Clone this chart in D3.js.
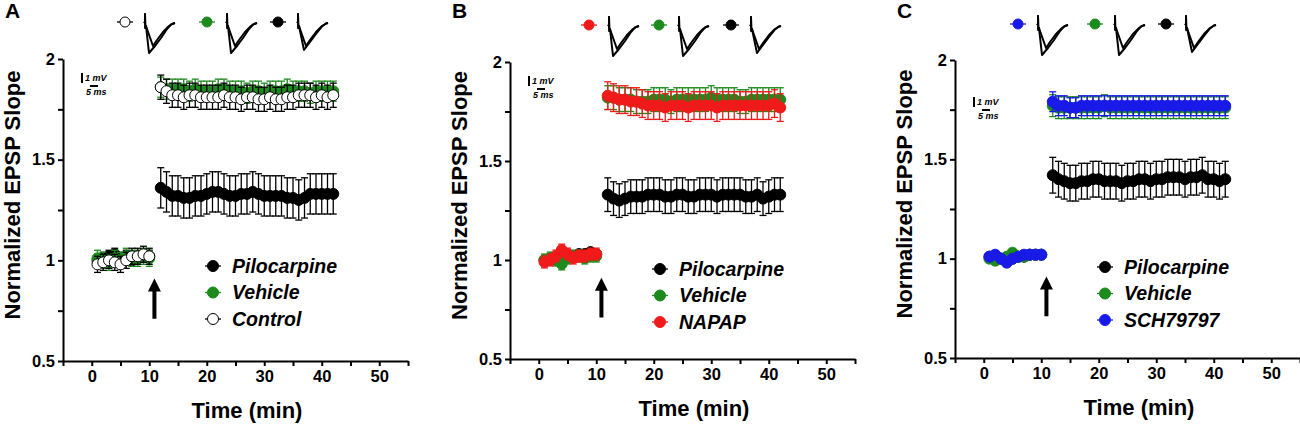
<!DOCTYPE html>
<html>

<head>
    <meta charset='utf-8'>
</head>
<style>
    body {
        margin: 0;
        background: #fff;
    }

    text {
        font-family: Arial, "Liberation Sans", sans-serif;
        font-weight: bold;
    }

    .axis path,
    .axis line {
        stroke: #000;
        stroke-width: 2px;
    }

    .axis text {
        font-size: 16.5px;
    }
</style>

<body>
    <div id='chart'></div>
    <script src="https://d3js.org/d3.v7.min.js"></script>
    <script>
        // time points (min)
        var timeBase = [1, 2, 3, 4, 5, 6, 7, 8, 9, 10];
        var timePost = [12, 13, 14, 15, 16, 17, 18, 19, 20, 21, 22, 23, 24, 25, 26, 27,
            28, 29, 30, 31, 32, 33, 34, 35, 36, 37, 38, 39, 40, 41, 42];
        var xTicks = [-5, 0, 5, 10, 15, 20, 25, 30, 35, 40, 45, 50, 55];
        var yTicks = [0.5, 0.75, 1, 1.25, 1.5, 1.75, 2];

        // panel A
        var aPiloBase = [1.00, 1.01, 1.02, 1.03, 1.01, 1.02, 1.00, 1.01, 1.02, 1.02];
        var aPiloPost = [1.36, 1.34, 1.32, 1.32, 1.31, 1.31, 1.32, 1.32, 1.33, 1.34, 1.34, 1.33, 1.32, 1.32, 1.33, 1.33,
            1.34, 1.33, 1.32, 1.32, 1.32, 1.32, 1.31, 1.31, 1.30, 1.31, 1.33, 1.33, 1.33, 1.33, 1.33];
        var aVehBase = [1.01, 1.00, 0.99, 1.01, 1.00, 1.02, 1.01, 1.01, 1.02, 1.01];
        var aVehPost = [1.86, 1.85, 1.85, 1.85, 1.85, 1.84, 1.85, 1.84, 1.84, 1.84, 1.85, 1.85, 1.84, 1.84, 1.84, 1.83,
            1.84, 1.84, 1.83, 1.84, 1.84, 1.84, 1.85, 1.84, 1.84, 1.84, 1.83, 1.84, 1.84, 1.84, 1.84];
        var aCtrlBase = [0.98, 0.99, 1.00, 0.99, 0.98, 1.00, 1.02, 1.02, 1.03, 1.02];
        var aCtrlPost = [1.86, 1.84, 1.82, 1.82, 1.81, 1.82, 1.82, 1.81, 1.81, 1.81, 1.81, 1.82, 1.81, 1.81, 1.80, 1.81,
            1.81, 1.80, 1.80, 1.81, 1.80, 1.80, 1.81, 1.81, 1.82, 1.82, 1.82, 1.81, 1.82, 1.81, 1.82];

        // panel B
        var bPiloBase = [1.00, 1.00, 1.01, 1.01, 1.02, 1.02, 1.03, 1.03, 1.04, 1.03];
        var bPiloPost = [1.33, 1.31, 1.30, 1.31, 1.32, 1.32, 1.32, 1.33, 1.33, 1.33, 1.32, 1.32, 1.33, 1.33, 1.32, 1.32,
            1.33, 1.33, 1.33, 1.32, 1.33, 1.33, 1.33, 1.33, 1.32, 1.32, 1.33, 1.31, 1.32, 1.33, 1.33];
        var bVehBase = [1.00, 1.01, 1.00, 0.98, 1.01, 1.02, 1.02, 1.01, 1.02, 1.02];
        var bVehPost = [1.82, 1.82, 1.81, 1.81, 1.81, 1.80, 1.80, 1.80, 1.81, 1.81, 1.81, 1.80, 1.81, 1.81, 1.81, 1.81,
            1.81, 1.81, 1.82, 1.81, 1.81, 1.81, 1.81, 1.80, 1.80, 1.81, 1.81, 1.81, 1.81, 1.81, 1.81];
        var bNapBase = [0.99, 1.00, 1.02, 1.05, 1.03, 1.01, 1.02, 1.02, 1.03, 1.03];
        var bNapPost = [1.83, 1.82, 1.81, 1.81, 1.80, 1.80, 1.79, 1.78, 1.78, 1.78, 1.77, 1.78, 1.78, 1.78, 1.77, 1.78,
            1.78, 1.78, 1.78, 1.77, 1.78, 1.78, 1.78, 1.78, 1.78, 1.78, 1.78, 1.78, 1.78, 1.79, 1.77];

        // panel C
        var cPiloBase = [1.01, 1.01, 1.00, 0.99, 1.00, 1.01, 1.01, 1.02, 1.02, 1.02];
        var cPiloPost = [1.42, 1.40, 1.39, 1.38, 1.38, 1.39, 1.39, 1.40, 1.40, 1.39, 1.39, 1.39, 1.38, 1.39, 1.39, 1.40,
            1.40, 1.39, 1.40, 1.40, 1.41, 1.41, 1.41, 1.40, 1.41, 1.41, 1.42, 1.40, 1.40, 1.39, 1.40];
        var cVehBase = [1.00, 0.99, 1.00, 1.01, 1.03, 1.01, 1.01, 1.02, 1.02, 1.02];
        var cVehPost = [1.77, 1.76, 1.76, 1.76, 1.76, 1.76, 1.76, 1.76, 1.76, 1.77, 1.76, 1.76, 1.76, 1.76, 1.76, 1.76,
            1.76, 1.76, 1.76, 1.76, 1.76, 1.76, 1.76, 1.76, 1.76, 1.76, 1.76, 1.76, 1.76, 1.76, 1.76];
        var cSchBase = [1.01, 1.02, 1.00, 0.98, 1.00, 1.01, 1.02, 1.02, 1.02, 1.02];
        var cSchPost = [1.79, 1.77, 1.77, 1.76, 1.76, 1.77, 1.77, 1.77, 1.77, 1.77, 1.77, 1.77, 1.77, 1.77, 1.77, 1.77,
            1.77, 1.77, 1.77, 1.77, 1.77, 1.77, 1.77, 1.77, 1.77, 1.77, 1.77, 1.77, 1.77, 1.77, 1.77];

        // SEM [baseline, post]
        var aSem = [[0.03, 0.10], [0.04, 0.05], [0.04, 0.06]];
        var bSem = [[0.02, 0.085], [0.03, 0.06], [0.03, 0.07]];
        var cSem = [[0.02, 0.09], [0.02, 0.055], [0.02, 0.05]];

        // example fEPSP traces [ms, mV]
        var traceBaseline = [[-0.5, 0], [0, 0.1], [0, 0.9], [0.15, -0.5], [0.5, -0.3], [1, -0.6], [4, -2.3], [6, -1.7],
            [9, -0.9], [12, -0.3], [14, -0.05], [15, 0]];
        var traceLTP = [[-0.5, 0], [0, 0.1], [0, 0.9], [0.15, -0.5], [0.5, -0.3], [2, -3.0], [5, -2.3], [8, -1.5],
            [11, -0.6], [13, -0.15], [15, 0]];
        var traceLTPsmall = [[-0.5, 0], [0, 0.1], [0, 0.9], [0.15, -0.5], [0.5, -0.3], [3, -2.7], [6, -1.9], [9, -1.1],
            [12, -0.35], [14, -0.05], [15, 0]];

        var legendA = ["Pilocarpine", "Vehicle", "Control"];
        var legendB = ["Pilocarpine", "Vehicle", "NAPAP"];
        var legendC = ["Pilocarpine", "Vehicle", "SCH79797"];

        var green = "#1c8a1c";
        var panels = [{
            letter: "A", left: 63, top: 59, bottom: 361, names: legendA, sem: aSem,
            series: [[aPiloBase, aPiloPost], [aVehBase, aVehPost], [aCtrlBase, aCtrlPost]],
            fills: ["#000", green, "#fff"], strokes: ["#000", green, "#000"],
            iconX: [62, 144, 215], iconY: 22, barY: 14
        }, {
            letter: "B", left: 510, top: 62, bottom: 359, names: legendB, sem: bSem,
            series: [[bPiloBase, bPiloPost], [bVehBase, bVehPost], [bNapBase, bNapPost]],
            fills: ["#000", green, "#f01a1a"], strokes: ["#000", green, "#f01a1a"],
            iconX: [79, 149, 221], iconY: 25, barY: 14
        }, {
            letter: "C", left: 955, top: 60, bottom: 358, names: legendC, sem: cSem,
            series: [[cPiloBase, cPiloPost], [cVehBase, cVehPost], [cSchBase, cSchPost]],
            fills: ["#000", green, "#1a1ae8"], strokes: ["#000", green, "#1a1ae8"],
            iconX: [63, 140, 211], iconY: 24, barY: 37
        }];

        var svg = d3.select('#chart').append('svg')
            .attr('width', 1300)
            .attr('height', 425);

        panels.forEach(drawPanel);

        function drawPanel(p) {
            var g = svg.append('g');
            var x = d3.scaleLinear().domain([-5, 55]).range([p.left, p.left + 345]);
            var y = d3.scaleLinear().domain([0.5, 2]).range([p.bottom, p.top]);

            g.append('g').attr('class', 'axis')
                .attr('transform', 'translate(0,' + p.bottom + ')')
                .call(d3.axisBottom(x).tickValues(xTicks).tickSize(5).tickSizeOuter(0).tickPadding(4)
                    .tickFormat(function(d) { return (d >= 0 && d % 10 === 0) ? d : ""; }));
            g.append('g').attr('class', 'axis')
                .attr('transform', 'translate(' + p.left + ',0)')
                .call(d3.axisLeft(y).tickValues(yTicks).tickSize(5).tickSizeOuter(0).tickPadding(3)
                    .tickFormat(function(d) { return (d * 2) % 1 === 0 ? d : ""; }));

            g.append('text')
                .attr('transform', 'translate(' + (p.left - 43) + ',' + ((p.top + p.bottom) / 2 - 15) + ') rotate(-90)')
                .attr('text-anchor', 'middle')
                .style('font-size', '22px')
                .text('Normalized EPSP Slope');
            g.append('text')
                .attr('x', x(27)).attr('y', p.bottom + 57)
                .attr('text-anchor', 'middle')
                .style('font-size', '22px')
                .text('Time (min)');
            g.append('text')
                .attr('x', p.left - 58).attr('y', 18)
                .style('font-size', '21px')
                .text(p.letter);

            // series: pilocarpine first, drug/control last (on top)
            p.series.forEach(function(s, i) {
                [0, 1].forEach(function(k) {
                    var times = k === 0 ? timeBase : timePost;
                    var pts = times.map(function(t, j) { return { t: t, v: s[k][j], e: p.sem[i][k] }; });
                    var sg = g.append('g');
                    sg.selectAll('line.err').data(pts).enter().append('line')
                        .attr('x1', function(d) { return x(d.t); })
                        .attr('x2', function(d) { return x(d.t); })
                        .attr('y1', function(d) { return y(d.v - d.e); })
                        .attr('y2', function(d) { return y(d.v + d.e); })
                        .attr('stroke', p.strokes[i]).attr('stroke-width', 1.3);
                    [-1, 1].forEach(function(sign) {
                        sg.selectAll(null).data(pts).enter().append('line')
                            .attr('x1', function(d) { return x(d.t) - 3.5; })
                            .attr('x2', function(d) { return x(d.t) + 3.5; })
                            .attr('y1', function(d) { return y(d.v + sign * d.e); })
                            .attr('y2', function(d) { return y(d.v + sign * d.e); })
                            .attr('stroke', p.strokes[i]).attr('stroke-width', 1.3);
                    });
                    sg.append('path').datum(pts)
                        .attr('fill', 'none').attr('stroke', p.strokes[i]).attr('stroke-width', 1.2)
                        .attr('d', d3.line().x(function(d) { return x(d.t); }).y(function(d) { return y(d.v); }));
                    sg.selectAll('circle').data(pts).enter().append('circle')
                        .attr('cx', function(d) { return x(d.t); })
                        .attr('cy', function(d) { return y(d.v); })
                        .attr('r', 5.5)
                        .attr('fill', p.fills[i])
                        .attr('stroke', p.strokes[i]).attr('stroke-width', 1);
                });
            });

            // arrow marking the stimulation
            var ax = x(10.9), ay0 = y(0.71), ay1 = y(0.91);
            g.append('path')
                .attr('d', 'M' + (ax - 2) + ',' + ay0 + 'V' + (ay1 + 13) + 'H' + (ax - 6.5) + 'L' + ax + ',' + ay1 +
                    'L' + (ax + 6.5) + ',' + (ay1 + 13) + 'H' + (ax + 2) + 'V' + ay0 + 'Z')
                .attr('fill', '#000');

            // legend
            p.names.forEach(function(name, i) {
                var ly = p.top + 207 + i * 26.5, lx = p.left + 150;
                g.append('line').attr('x1', lx - 8).attr('x2', lx + 8).attr('y1', ly).attr('y2', ly)
                    .attr('stroke', p.strokes[i]).attr('stroke-width', 1.3);
                g.append('circle').attr('cx', lx).attr('cy', ly).attr('r', 5.5)
                    .attr('fill', p.fills[i]).attr('stroke', p.strokes[i]);
                g.append('text').attr('x', lx + 19).attr('y', ly).attr('dy', '0.35em')
                    .style('font-size', '19.5px').style('font-style', 'italic')
                    .text(name);
            });

            // scale bar
            var sx = p.left + 19, sy = p.top + p.barY;
            g.append('line').attr('x1', sx).attr('x2', sx).attr('y1', sy).attr('y2', sy + 10)
                .attr('stroke', '#000').attr('stroke-width', 2);
            g.append('line').attr('x1', sx + 8).attr('x2', sx + 16).attr('y1', sy + 13).attr('y2', sy + 13)
                .attr('stroke', '#000').attr('stroke-width', 2);
            g.append('text').attr('x', sx + 3).attr('y', sy + 8)
                .style('font-size', '9px').style('font-style', 'italic').text('1 mV');
            g.append('text').attr('x', sx + 4).attr('y', sy + 22)
                .style('font-size', '9px').style('font-style', 'italic').text('5 ms');

            // example traces: drug/control, vehicle, pilocarpine
            var order = [2, 1, 0];
            order.forEach(function(si, k) {
                var mx = p.left + p.iconX[k], my = p.iconY;
                g.append('line').attr('x1', mx - 8).attr('x2', mx + 8).attr('y1', my).attr('y2', my)
                    .attr('stroke', p.strokes[si]).attr('stroke-width', 1.3);
                g.append('circle').attr('cx', mx).attr('cy', my).attr('r', 5)
                    .attr('fill', p.fills[si]).attr('stroke', p.strokes[si]);
                var tx = d3.scaleLinear().domain([0, 15]).range([mx + 20, mx + 50]);
                var ty = d3.scaleLinear().domain([-3, 0]).range([my + 31, my + 1]);
                var line = d3.line().x(function(d) { return tx(d[0]); }).y(function(d) { return ty(d[1]); });
                [traceBaseline, si === 0 ? traceLTPsmall : traceLTP].forEach(function(tr) {
                    g.append('path').datum(tr).attr('d', line)
                        .attr('fill', 'none').attr('stroke', '#000').attr('stroke-width', 2)
                        .attr('stroke-linejoin', 'round');
                });
            });
        }
    </script>
</body>

</html>
